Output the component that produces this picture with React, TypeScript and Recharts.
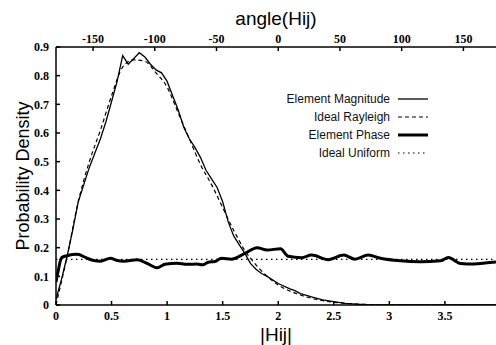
import { LineChart, Line, XAxis, YAxis, Label } from "recharts";

/* ── data ── */
const magX = [0, 0.05, 0.1, 0.15, 0.2, 0.25, 0.3, 0.35, 0.4, 0.45, 0.5, 0.55, 0.6, 0.65, 0.7, 0.75, 0.8, 0.85, 0.9, 0.95, 1.0, 1.05, 1.1, 1.15, 1.2, 1.25, 1.3, 1.35, 1.4, 1.45, 1.5, 1.55, 1.6, 1.65, 1.7, 1.75, 1.8, 1.85, 1.9, 2.0, 2.1, 2.15, 2.2, 2.3, 2.4, 2.5, 2.6, 2.7, 2.8, 3.0, 3.96];
const magY = [0.02, 0.09, 0.17, 0.26, 0.36, 0.42, 0.48, 0.53, 0.58, 0.64, 0.71, 0.78, 0.87, 0.84, 0.86, 0.88, 0.865, 0.84, 0.82, 0.81, 0.78, 0.73, 0.68, 0.62, 0.58, 0.55, 0.515, 0.47, 0.44, 0.41, 0.36, 0.29, 0.24, 0.21, 0.18, 0.145, 0.125, 0.11, 0.1, 0.075, 0.057, 0.05, 0.04, 0.028, 0.018, 0.012, 0.006, 0.003, 0.001, 0, 0];

const rayX = [0, 0.1, 0.2, 0.3, 0.4, 0.5, 0.6, 0.7, 0.8, 0.9, 1.0, 1.1, 1.2, 1.3, 1.4, 1.5, 1.6, 1.7, 1.8, 1.9, 2.0, 2.2, 2.4, 2.6, 2.8, 3.0, 3.96];
const rayY = [0, 0.17, 0.36, 0.5, 0.61, 0.73, 0.83, 0.855, 0.85, 0.81, 0.76, 0.67, 0.58, 0.49, 0.42, 0.34, 0.26, 0.19, 0.14, 0.1, 0.07, 0.035, 0.015, 0.006, 0.002, 0, 0];

const phaseX = [0, 0.02, 0.05, 0.1, 0.19, 0.28, 0.34, 0.4, 0.49, 0.55, 0.61, 0.73, 0.82, 0.91, 0.98, 1.09, 1.18, 1.27, 1.32, 1.37, 1.43, 1.49, 1.58, 1.7, 1.81, 1.9, 2.02, 2.09, 2.21, 2.3, 2.45, 2.59, 2.69, 2.81, 2.92, 3.1, 3.28, 3.46, 3.53, 3.64, 3.76, 3.88, 3.96];
const phaseY = [0.08, 0.12, 0.165, 0.172, 0.177, 0.163, 0.155, 0.153, 0.163, 0.155, 0.153, 0.158, 0.145, 0.13, 0.142, 0.146, 0.142, 0.143, 0.14, 0.149, 0.152, 0.163, 0.16, 0.18, 0.2, 0.192, 0.196, 0.17, 0.165, 0.174, 0.158, 0.174, 0.16, 0.174, 0.163, 0.154, 0.151, 0.154, 0.166, 0.145, 0.143, 0.147, 0.15];

const uniX = [0, 3.96];
const uniY = [0.159, 0.159];

// top axis spans the same width, in degrees
const angleRange = [-180, 176.4];

const magTicks = [0, 0.5, 1, 1.5, 2, 2.5, 3, 3.5];
const angleTicks = [-150, -100, -50, 0, 50, 100, 150];
const densityTicks = [0, 0.1, 0.2, 0.3, 0.4, 0.5, 0.6, 0.7, 0.8, 0.9];

const legendItems = [
    { name: "Element Magnitude", width: 1.3, dash: undefined },
    { name: "Ideal Rayleigh", width: 1.2, dash: "4 3" },
    { name: "Element Phase", width: 3, dash: undefined },
    { name: "Ideal Uniform", width: 1.2, dash: "1.5 3.5" },
];

const zip = (xs: number[], ys: number[]) => xs.map((x, i) => ({ x, y: ys[i] }));

const tickFont = { fill: "#000", fontSize: 12, fontWeight: 700, fontFamily: "'Liberation Serif', 'Times New Roman', serif" };
const titleFont = { fill: "#000", fontSize: 19, fontFamily: "'Liberation Sans', Arial, sans-serif" };
const axisLine = { stroke: "#000", strokeWidth: 1.5 };
const fmt = (v: number) => String(v);

export default function App() {
    return (
        <div style={{ position: "absolute", left: 0, top: 0, width: 496, height: 345, background: "#fff", overflow: "hidden" }}>
            <LineChart width={496} height={345} margin={{ top: 0, right: 0, bottom: 0, left: 0 }}>
                <XAxis
                    xAxisId="bottom"
                    dataKey="x"
                    type="number"
                    domain={[0, 3.96]}
                    ticks={magTicks}
                    tickFormatter={fmt}
                    orientation="bottom"
                    height={40}
                    tickSize={-4}
                    tickMargin={10}
                    tick={tickFont}
                    axisLine={axisLine}
                    tickLine={axisLine}
                    allowDataOverflow
                >
                    <Label value="|Hij|" position="insideBottom" offset={4} style={titleFont} />
                </XAxis>
                <XAxis
                    xAxisId="top"
                    dataKey="x"
                    type="number"
                    domain={angleRange}
                    ticks={angleTicks}
                    orientation="top"
                    height={47}
                    tickSize={-4}
                    tickMargin={8}
                    tick={tickFont}
                    axisLine={axisLine}
                    tickLine={axisLine}
                    allowDataOverflow
                >
                    <Label value="angle(Hij)" position="insideTop" offset={12} style={titleFont} />
                </XAxis>
                <YAxis
                    type="number"
                    domain={[0, 0.9]}
                    ticks={densityTicks}
                    tickFormatter={fmt}
                    width={56}
                    tickSize={-4}
                    tickMargin={11}
                    tick={tickFont}
                    axisLine={axisLine}
                    tickLine={axisLine}
                    allowDataOverflow
                >
                    <Label value="Probability Density" angle={-90} position="insideLeft" offset={23} style={{ ...titleFont, fontSize: 18, textAnchor: "middle" }} />
                </YAxis>
                <Line xAxisId="top" data={zip(angleRange, [0, 0])} dataKey="y" stroke="none" dot={false} legendType="none" isAnimationActive={false} />
                <Line xAxisId="bottom" data={zip(uniX, uniY)} dataKey="y" name="Ideal Uniform" stroke="#000" strokeWidth={1.2} strokeDasharray="1.5 3.5" dot={false} type="linear" isAnimationActive={false} />
                <Line xAxisId="bottom" data={zip(rayX, rayY)} dataKey="y" name="Ideal Rayleigh" stroke="#000" strokeWidth={1.2} strokeDasharray="4 3" dot={false} type="monotone" isAnimationActive={false} />
                <Line xAxisId="bottom" data={zip(magX, magY)} dataKey="y" name="Element Magnitude" stroke="#000" strokeWidth={1.3} dot={false} type="linear" isAnimationActive={false} />
                <Line xAxisId="bottom" data={zip(phaseX, phaseY)} dataKey="y" name="Element Phase" stroke="#000" strokeWidth={3} dot={false} type="monotone" isAnimationActive={false} />
            </LineChart>
            {/* legend, upper right */}
            <div style={{ position: "absolute", left: 200, top: 90, width: 236, fontFamily: "'Liberation Sans', Arial, sans-serif", fontSize: 12, color: "#111" }}>
                {legendItems.map((it) => (
                    <div key={it.name} style={{ display: "flex", alignItems: "center", justifyContent: "flex-end", height: 18 }}>
                        <span>{it.name}</span>
                        <svg width={38} height={10} style={{ marginLeft: 8 }}>
                            <line x1={0} y1={5} x2={30} y2={5} stroke="#000" strokeWidth={it.width} strokeDasharray={it.dash} />
                        </svg>
                    </div>
                ))}
            </div>
        </div>
    );
}
